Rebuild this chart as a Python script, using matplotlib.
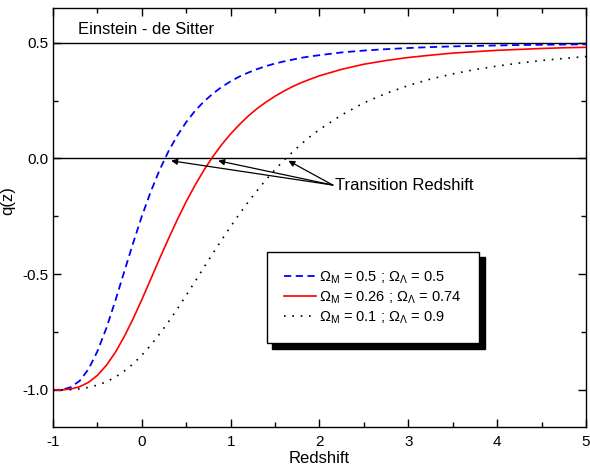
import numpy as np
import matplotlib
matplotlib.use("Agg")
import matplotlib.pyplot as plt
from matplotlib.ticker import MultipleLocator

plt.rcParams['font.family'] = ['Liberation Sans', 'DejaVu Sans']
plt.rcParams['mathtext.fontset'] = 'custom'
plt.rcParams['mathtext.rm'] = 'Liberation Sans'
plt.rcParams['mathtext.it'] = 'Liberation Sans:italic'
plt.rcParams['axes.unicode_minus'] = False

# redshift grid
z = [-1.0, -0.9, -0.8, -0.7, -0.6, -0.5, -0.4, -0.3, -0.2, -0.1,
     0.0, 0.1, 0.2, 0.3, 0.4, 0.5, 0.6, 0.7, 0.8, 0.9,
     1.0, 1.1, 1.2, 1.3, 1.4, 1.5, 1.6, 1.7, 1.8, 1.9,
     2.0, 2.25, 2.5, 2.75, 3.0, 3.25, 3.5, 3.75, 4.0, 4.25,
     4.5, 4.75, 5.0]

q_m05 = [-1.0, -0.999, -0.988, -0.961, -0.910, -0.833, -0.734, -0.617, -0.492, -0.368,
         -0.250, -0.144, -0.050, 0.031, 0.099, 0.157, 0.206, 0.246, 0.280, 0.309,
         0.333, 0.354, 0.371, 0.386, 0.399, 0.410, 0.419, 0.427, 0.435, 0.441,
         0.446, 0.458, 0.466, 0.472, 0.477, 0.481, 0.484, 0.486, 0.488, 0.490,
         0.491, 0.492, 0.493]

q_m026 = [-1.0, -0.9995, -0.996, -0.986, -0.967, -0.937, -0.894, -0.839, -0.771, -0.694,
          -0.610, -0.522, -0.433, -0.347, -0.264, -0.186, -0.115, -0.050, 0.008, 0.060,
          0.106, 0.147, 0.184, 0.216, 0.244, 0.269, 0.291, 0.311, 0.328, 0.343,
          0.357, 0.385, 0.407, 0.423, 0.436, 0.446, 0.455, 0.461, 0.467, 0.471,
          0.475, 0.478, 0.480]

q_m01 = [-1.0, -0.9998, -0.9987, -0.9955, -0.989, -0.979, -0.965, -0.945, -0.919, -0.888,
         -0.850, -0.807, -0.758, -0.706, -0.650, -0.591, -0.531, -0.470, -0.410, -0.351,
         -0.294, -0.239, -0.187, -0.138, -0.091, -0.048, -0.008, 0.029, 0.064, 0.096,
         0.125, 0.188, 0.240, 0.281, 0.315, 0.343, 0.365, 0.384, 0.399, 0.412,
         0.423, 0.432, 0.440]

labels = [r'$\Omega_{\mathrm{M}}$ = 0.5 ; $\Omega_{\Lambda}$ = 0.5',
          r'$\Omega_{\mathrm{M}}$ = 0.26 ; $\Omega_{\Lambda}$ = 0.74',
          r'$\Omega_{\mathrm{M}}$ = 0.1 ; $\Omega_{\Lambda}$ = 0.9']

q_eds = 0.5
q_zero = 0.0
# arrow tips on the q = 0 line
z_trans = [0.33, 0.86, 1.65]

fig = plt.figure(figsize=(5.9, 4.68), dpi=100)
ax = fig.add_axes([0.0898, 0.0876, 0.9034, 0.8954])

ax.axhline(q_eds, color='k', lw=1.0)
ax.axhline(q_zero, color='k', lw=1.0)

ax.plot(z, q_m05, color='#0000ff', lw=1.3, linestyle=(0, (4, 2.5)), label=labels[0])
ax.plot(z, q_m026, color='#ff0000', lw=1.2, label=labels[1])
ax.plot(z, q_m01, color='k', lw=1.2, linestyle=(0, (1, 4)), label=labels[2])

ax.text(-0.72, 0.525, 'Einstein - de Sitter', fontsize=12, va='bottom', ha='left')

for zt in z_trans:
    ax.annotate('', xy=(zt, -0.01), xytext=(2.15, -0.115),
                arrowprops=dict(arrowstyle='-|>', color='k', lw=0.9,
                                mutation_scale=9, shrinkA=0, shrinkB=0))
ax.text(2.17, -0.115, 'Transition Redshift', fontsize=12, va='center', ha='left')

ax.set_xlim(-1, 5)
ax.set_ylim(-1.16, 0.65)
ax.xaxis.set_major_locator(MultipleLocator(1))
ax.xaxis.set_minor_locator(MultipleLocator(0.5))
ax.yaxis.set_minor_locator(MultipleLocator(0.25))
ax.set_yticks([-1.0, -0.5, 0.0, 0.5])
ax.set_yticklabels(['-1.0', '-0.5', '0.0', '0.5'])
ax.tick_params(which='both', direction='in', top=True, right=True, labelsize=11)
ax.tick_params(which='major', length=6, width=1)
ax.tick_params(which='minor', length=3.5, width=1)
ax.tick_params(axis='x', pad=6)
for s in ax.spines.values():
    s.set_linewidth(1.0)

ax.set_xlabel('Redshift', fontsize=12, labelpad=1)
ax.set_ylabel('q(z)', fontsize=12)
ax.yaxis.set_label_coords(-0.071, 0.54)

leg = ax.legend(loc='lower left', bbox_to_anchor=(0.401, 0.2), borderaxespad=0,
                prop={'size': 10.5}, frameon=True, fancybox=False, edgecolor='k',
                handlelength=2.2, handletextpad=0.2, labelspacing=0.25,
                borderpad=1.2,
                shadow={'ox': 4, 'oy': -4, 'facecolor': 'k', 'edgecolor': 'k', 'alpha': 1})
leg.get_frame().set_linewidth(1.0)

fig.savefig('out.png', dpi=100)
